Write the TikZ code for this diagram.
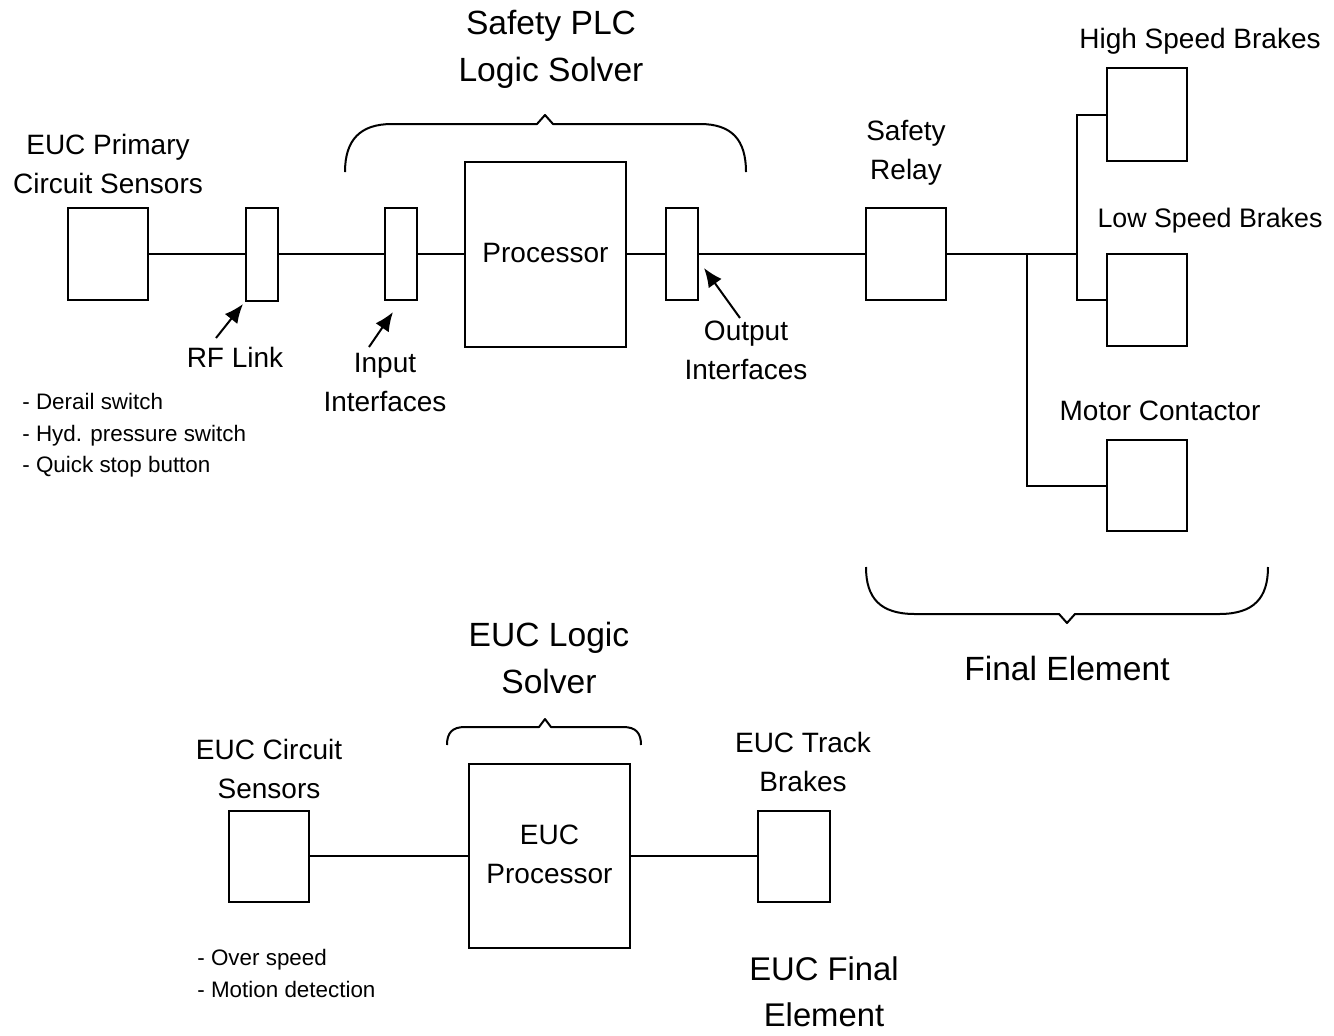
\documentclass[tikz,border=0pt]{standalone}
\usepackage{fontspec}
\setmainfont{Liberation Sans}
\usetikzlibrary{arrows.meta}
\begin{document}
\begin{tikzpicture}[x=0.5pt,y=-0.5pt,
  box/.style={draw, line width=1pt, inner sep=0pt, minimum width=40pt, minimum height=46pt},
  slim/.style={box, minimum width=16pt},
  wire/.style={line width=1pt},
  pointer/.style={line width=1pt, -{Latex[length=9.5pt,width=8pt]}},
  brace/.style={line width=1pt, line join=round},
  big/.style={font=\fontsize{16.8pt}{23.5pt}\selectfont, align=center, inner sep=0pt},
  mid/.style={font=\fontsize{14pt}{19.5pt}\selectfont, align=center, inner sep=0pt},
  small/.style={font=\fontsize{11.2pt}{15.8pt}\selectfont, align=left, inner sep=0pt, anchor=north west}]
\useasboundingbox (0,0) rectangle (1334,1035);
\fill[white] (0,0) rectangle (1334,1035);

% ---- top chain ----
\node[box] (euc) at (108,254) {};
\node[slim, minimum height=46.5pt] (rf) at (262,254) {};
\node[slim] (inp) at (401,254) {};
\node[box, minimum width=80.5pt, minimum height=92.5pt] (proc) at (545.5,254) {};
\node[mid] (proclbl) at (545.5,253) {Processor};
\node[slim] (outp) at (682,254) {};
\node[box] (relay) at (906,254) {};
\node[box, minimum height=46.5pt] (hs) at (1147,114.5) {};
\node[box] (ls) at (1147,300) {};
\node[box, minimum height=45.5pt] (mc) at (1147,485.5) {};

\coordinate (j1) at (1027,254);
\coordinate (j2) at (1077,254);

\draw[wire] (euc.east) -- (rf.west);
\draw[wire] (rf.east) -- (inp.west);
\draw[wire] (inp.east) -- (proc.west);
\draw[wire] (proc.east) -- (outp.west);
\draw[wire] (outp.east) -- (relay.west);
\draw[wire] (relay.east) -- (j2);
\draw[wire] (hs.west) -| (j2) |- (ls.west);
\draw[wire] (j1) |- (mc.west);

% ---- top labels ----
\node[big] (plc) at (551,49) {Safety PLC\\Logic Solver};
\node[mid] (euclbl) at (108,164) {EUC Primary\\Circuit Sensors};
\node[mid] (rflbl) at (235,357) {RF Link};
\node[mid] (inlbl) at (385,382) {Input\\Interfaces};
\node[mid] (outlbl) at (746,350) {Output\\Interfaces};
\node[mid] (relaylbl) at (906,153) {Safety\\Relay};
\node[mid] (hslbl) at (1200,41) {High Speed Brakes};
\node[mid, font=\fontsize{13.4pt}{18pt}\selectfont] (lslbl) at (1210,221) {Low Speed Brakes};
\node[mid] (mclbl) at (1160,411) {Motor Contactor};
\node[small] (list1) at (22,393) {- Derail switch\\- Hyd. pressure switch\\- Quick stop button};
\node[big] (felbl) at (1067,668) {Final Element};

% pointers
\coordinate (a1) at (216,338);
\coordinate (a1e) at (243,304);
\coordinate (a2) at (369,347);
\coordinate (a2e) at (393,312);
\coordinate (a3) at (740,318);
\coordinate (a3e) at (704,268);
\draw[pointer] (a1) -- (a1e);
\draw[pointer] (a2) -- (a2e);
\draw[pointer] (a3) -- (a3e);

% braces
\draw[brace] (345,172) .. controls (345,140) and (360,124) .. (392,124)
  -- (537,124) -- (545,115) -- (553,124) -- (700,124)
  .. controls (732,124) and (746,140) .. (746,172);
\draw[brace] (866,567) .. controls (866,598) and (880,614) .. (915,614)
  -- (1059,614) -- (1067,623) -- (1075,614) -- (1219,614)
  .. controls (1254,614) and (1268,598) .. (1268,567);

% ---- bottom chain ----
\node[box, minimum height=45.5pt] (ecs) at (269,856) {};
\node[box, minimum width=80.5pt, minimum height=92pt] (ep) at (549.5,856) {};
\node[mid] (eplbl) at (549.5,854) {EUC\\Processor};
\node[box, minimum width=36pt, minimum height=45.5pt] (etb) at (794,856) {};
\draw[wire] (ecs.east) -- (ep.west);
\draw[wire] (ep.east) -- (etb.west);

\node[big] (elslbl) at (549,658) {EUC Logic\\Solver};
\draw[brace] (447,745) .. controls (447,733) and (452,727) .. (465,727)
  -- (539,727) -- (545,719) -- (551,727) -- (623,727)
  .. controls (636,727) and (641,733) .. (641,745);
\node[mid] (ecslbl) at (269,769) {EUC Circuit\\Sensors};
\node[mid] (etblbl) at (803,762) {EUC Track\\Brakes};
\node[small] (list2) at (197,949) {- Over speed\\- Motion detection};
\node[big, font=\fontsize{16.4pt}{23pt}\selectfont] (efelbl) at (824,992) {EUC Final\\Element};
\end{tikzpicture}
\end{document}
